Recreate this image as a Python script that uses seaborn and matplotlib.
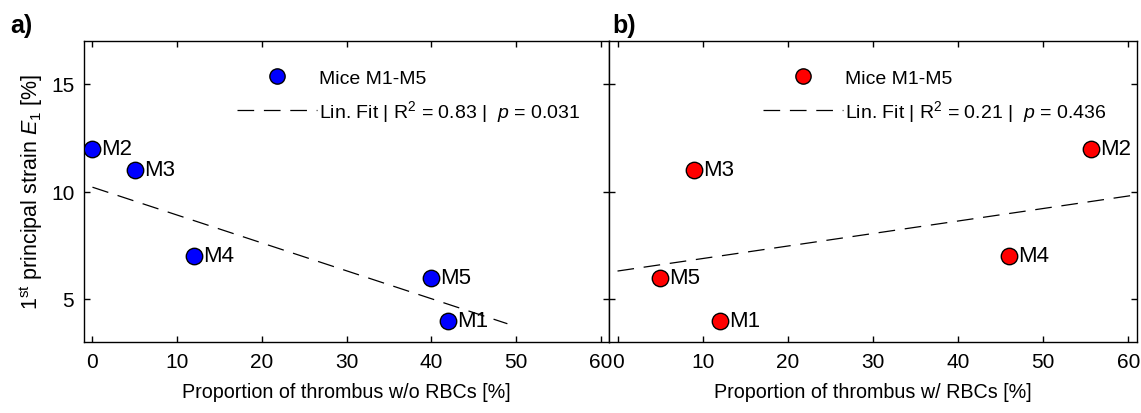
import numpy as np
import pandas as pd
import matplotlib
matplotlib.use("Agg")
import matplotlib.pyplot as plt
import seaborn as sns
from matplotlib.lines import Line2D

# ---- data ----
mice = ["M1", "M2", "M3", "M4", "M5"]
strain_e1 = [4, 12, 11, 7, 6]
prop_wo_rbc = [42, 0, 5, 12, 40]
prop_w_rbc = [12, 55.6, 9, 46, 5]
fit_a_x = [0, 49]
fit_a_y = [10.2, 3.85]
fit_b_x = [0, 61]
fit_b_y = [6.3, 9.85]
fit_a_label = r"Lin. Fit | R$^2$ = 0.83 |  $p$ = 0.031"
fit_b_label = r"Lin. Fit | R$^2$ = 0.21 |  $p$ = 0.436"
xticks = [0, 10, 20, 30, 40, 50, 60]
yticks = [5, 10, 15]

sns.set_style("ticks")
fam = ["Liberation Sans", "DejaVu Sans"]
plt.rcParams["font.family"] = fam
plt.rcParams["mathtext.fontset"] = "custom"
plt.rcParams["mathtext.rm"] = "Liberation Sans"
plt.rcParams["mathtext.it"] = "Liberation Sans:italic"
plt.rcParams["lines.scale_dashes"] = False
for k in ["text.color", "axes.labelcolor", "xtick.color", "ytick.color", "axes.edgecolor"]:
    plt.rcParams[k] = "black"

FS = 14

fig = plt.figure(figsize=(11.41, 4.14), dpi=100)
axa = fig.add_axes([84/1141, 71/414, 525/1141, 301/414])
axb = fig.add_axes([609/1141, 71/414, 528/1141, 301/414])

df_a = pd.DataFrame({"x": prop_wo_rbc, "y": strain_e1, "m": mice})
df_b = pd.DataFrame({"x": prop_w_rbc, "y": strain_e1, "m": mice})

for ax, df, color, fx, fy, lab, xlabel in [
    (axa, df_a, "#0000ff", fit_a_x, fit_a_y, fit_a_label, "Proportion of thrombus w/o RBCs [%]"),
    (axb, df_b, "#ff0000", fit_b_x, fit_b_y, fit_b_label, "Proportion of thrombus w/ RBCs [%]"),
]:
    sns.lineplot(x=fx, y=fy, ax=ax, color="black", lw=0.9, legend=False)
    ax.lines[-1].set_dashes((12, 7))
    sns.scatterplot(data=df, x="x", y="y", ax=ax, s=140, color=color,
                    edgecolor="black", linewidth=1, legend=False, zorder=3)
    for _, r in df.iterrows():
        ax.annotate(r["m"], (r["x"], r["y"]), xytext=(6.5, 0), textcoords="offset points",
                    va="center", ha="left", fontsize=16)
    ax.set_xlim(-1, 61)
    ax.set_ylim(3, 17)
    ax.set_xticks(xticks)
    ax.set_yticks(yticks)
    ax.tick_params(direction="in", top=True, right=True, length=4, width=1,
                   labelsize=15, pad=7)
    for s in ax.spines.values():
        s.set_linewidth(1)
        s.set_color("black")
    ax.set_xlabel(xlabel, fontsize=14.2, labelpad=8)
    ax.set_ylabel("")
    h1 = Line2D([], [], ls="none", marker="o", ms=11, mfc=color, mec="black", mew=1)
    h2 = Line2D([], [], color="black", lw=0.9, dashes=(12, 7))
    ax.legend([h1, h2], ["Mice M1-M5", lab], loc="upper left",
              bbox_to_anchor=(0.292, 0.905), frameon=False, fontsize=FS,
              handlelength=4.1, handletextpad=0.1, labelspacing=0.55,
              borderpad=0, borderaxespad=0)

axb.tick_params(labelleft=False)
axb.set_ylabel("")
axa.set_ylabel(r"1$^{\mathrm{st}}$ principal strain $E_1$ [%]", fontsize=15.5, labelpad=4)

fig.text(10/1141, 1 - 26/414, "a)", fontsize=18, fontweight="bold", va="center")
fig.text(612/1141, 1 - 26/414, "b)", fontsize=18, fontweight="bold", va="center")

fig.savefig("out.png", dpi=100)
